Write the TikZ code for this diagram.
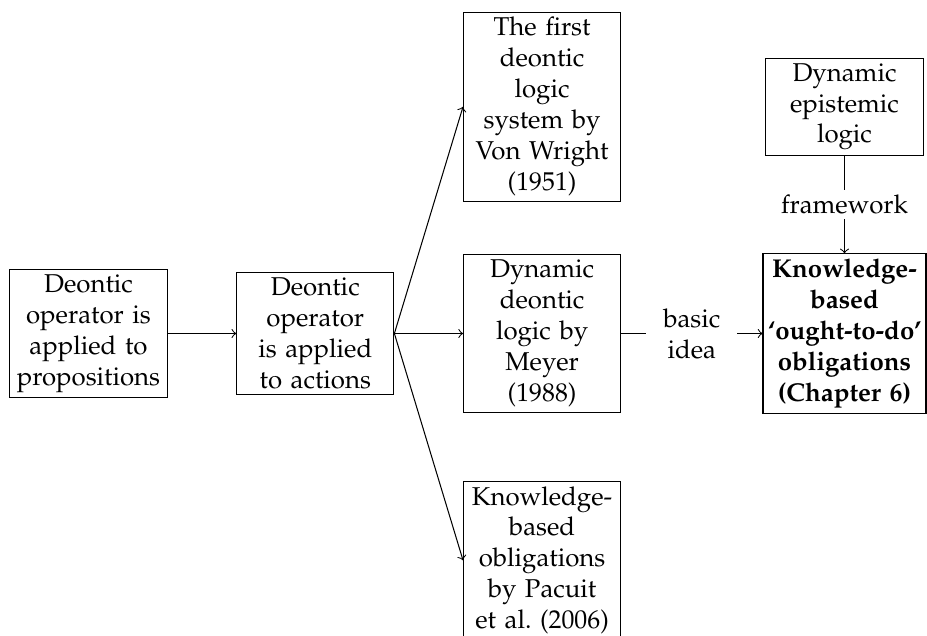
\documentclass[tikz,border=0pt]{standalone}
\usepackage[T1]{fontenc}
\usepackage{mathpazo}
\usepackage{tikz}
\usetikzlibrary{arrows,positioning}
\tikzset{%
	block/.style = {draw, rectangle, text width=2cm, inner sep=2pt, align=center},
	annot/.style = {fill=white, align=center, inner sep=2pt}, % label on a connector
}
\begin{document}
\begin{tikzpicture}[node distance=3.09cm,>=to]
	\useasboundingbox (-1.206,4.544) rectangle (11.424,-4.121);
	\node [block] (prop) {Deontic\\operator is\\applied to\\propositions};
	\node [block] (act) [right of=prop] {Deontic\\operator\\is applied\\to actions};
	\node [block] (meyer) [right of=act] {Dynamic\\deontic\\logic by\\Meyer\\(1988)};
	\node [block] (vw) [above of=meyer] {The first\\deontic\\logic\\system by\\Von Wright\\(1951)};
	\node [block] (pacuit) [below of=meyer] {Knowledge-\\based\\obligations\\by Pacuit\\et al.\ (2006)};
	\node [block,text width=2.08cm,font=\bfseries] (kbo) [right of=meyer,node distance=4.12cm] {Knowledge-\\based\\\mbox{`ought-to-do'}\\obligations\\(Chapter 6)};
	\node [block] (del) [above of=kbo] {Dynamic\\epistemic\\logic};

	\draw[->] (prop) -- (act);
	\draw[->] (act.east) -- (vw.west);
	\draw[->] (act.east) -- (meyer.west);
	\draw[->] (act.east) -- (pacuit.west);
	\draw[->] (meyer) -- node[annot,text width=1cm,inner xsep=3.4pt] {basic\\idea} (kbo);
	\draw[->] (del) -- node[annot] {framework} (kbo);
\end{tikzpicture}
\end{document}
